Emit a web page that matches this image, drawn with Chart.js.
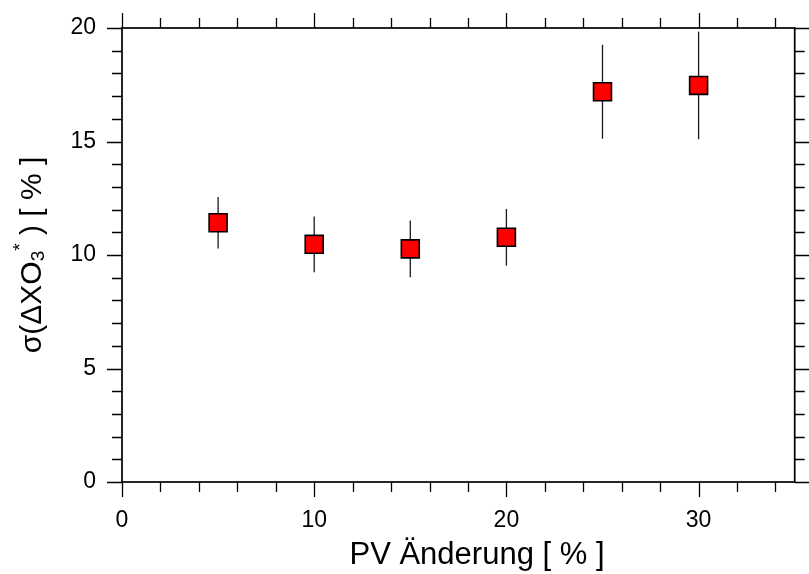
<!DOCTYPE html>
<html>
<head>
<meta charset="utf-8">
<script src="https://cdn.jsdelivr.net/npm/chart.js@4.4.1/dist/chart.umd.min.js"></script>
<style>
    html, body { margin: 0; padding: 0; background: #fff; }
    #wrap { width: 809px; height: 574px; }
</style>
</head>
<body>
<div id="wrap"><canvas id="grafico" width="809" height="574"></canvas></div>
<script>
// PV-Änderung in %, Streuung sigma(dXO3*) in % und Fehlerbalken (+/-)
const pvAenderung = [5, 10, 15, 20, 25, 30]
const sigmaXO3 = [11.42, 10.47, 10.27, 10.78, 17.19, 17.47]
const fehler = [1.13, 1.23, 1.25, 1.25, 2.07, 2.37]

const xAchse = { min: 0, max: 35, schritt: 10, neben: 2 }
const yAchse = { min: 0, max: 20, schritt: 5, neben: 1 }

const titelX = 'PV Änderung [ % ]'

const schrift = "'Liberation Sans', Arial, Helvetica, sans-serif"

// Fehlerbalken unter die Quadrate zeichnen
const fehlerbalken = {
    id: 'fehlerbalken',
    beforeDatasetsDraw(chart) {
        const ctx = chart.ctx
        const x = chart.scales.x
        const y = chart.scales.y
        ctx.save()
        ctx.strokeStyle = '#1a1a1a'
        ctx.lineWidth = 1.3
        for (let i = 0; i < pvAenderung.length; i++) {
            const px = x.getPixelForValue(pvAenderung[i])
            ctx.beginPath()
            ctx.moveTo(px, y.getPixelForValue(sigmaXO3[i] - fehler[i]))
            ctx.lineTo(px, y.getPixelForValue(sigmaXO3[i] + fehler[i]))
            ctx.stroke()
        }
        ctx.restore()
    }
}

// Rahmen mit Haupt- und Nebenstrichen auf allen vier Seiten
const rahmen = {
    id: 'rahmen',
    afterDatasetsDraw(chart) {
        const ctx = chart.ctx
        const a = chart.chartArea
        const x = chart.scales.x
        const y = chart.scales.y
        ctx.save()
        ctx.strokeStyle = '#000'
        ctx.lineWidth = 1.3
        ctx.beginPath()
        for (let v = xAchse.min; v < xAchse.max + 0.001; v += xAchse.neben) {
            const px = Math.round(x.getPixelForValue(v)) + 0.5
            const len = v % xAchse.schritt === 0 ? 15 : 10
            ctx.moveTo(px, a.bottom); ctx.lineTo(px, a.bottom + len)
            ctx.moveTo(px, a.top); ctx.lineTo(px, a.top - len)
        }
        for (let v = yAchse.min; v < yAchse.max + 0.001; v += yAchse.neben) {
            const py = Math.round(y.getPixelForValue(v)) + 0.5
            const len = v % yAchse.schritt === 0 ? 15 : 10
            ctx.moveTo(a.left, py); ctx.lineTo(a.left - len, py)
            ctx.moveTo(a.right, py); ctx.lineTo(a.right + len, py)
        }
        ctx.stroke()
        ctx.lineWidth = 1.7
        ctx.strokeRect(a.left, a.top, a.right - a.left, a.bottom - a.top)
        ctx.restore()
    }
}

// Achsentitel: x unten, y gedreht mit Index 3 und Stern
const achsentitel = {
    id: 'achsentitel',
    afterDraw(chart) {
        const ctx = chart.ctx
        const a = chart.chartArea
        ctx.save()
        ctx.fillStyle = '#000'
        ctx.textBaseline = 'alphabetic'
        ctx.textAlign = 'left'

        ctx.font = `31px ${schrift}`
        const bx = ctx.measureText(titelX).width
        ctx.fillText(titelX, 477 - bx / 2, 564)

        const teile = [
            { t: 'σ(ΔXO', size: 30, dy: 0 },
            { t: '3', size: 19, dy: 3 },
            { t: '*', size: 19, dy: -15 },
            { t: ' ) [ % ]', size: 30, dy: 0 }
        ]
        let gesamt = 0
        for (const s of teile) {
            ctx.font = `${s.size}px ${schrift}`
            s.w = ctx.measureText(s.t).width
            gesamt += s.w
        }
        const mitte = (a.top + a.bottom) / 2
        ctx.translate(41, mitte + gesamt / 2)
        ctx.rotate(-Math.PI / 2)
        let lx = 0
        for (const s of teile) {
            ctx.font = `${s.size}px ${schrift}`
            ctx.fillText(s.t, lx, s.dy)
            lx += s.w
        }
        ctx.restore()
    }
}

const ctx = document.getElementById('grafico').getContext('2d')

const grafico = new Chart(ctx, {
    type: 'scatter',
    data: {
        datasets: [{
            data: pvAenderung.map((v, i) => ({ x: v, y: sigmaXO3[i] })),
            pointStyle: 'rect',
            pointRadius: 12.7,
            backgroundColor: '#ff0000',
            borderColor: '#000',
            borderWidth: 1.6
        }]
    },
    options: {
        responsive: false,
        animation: false,
        devicePixelRatio: 1,
        events: [],
        layout: { padding: { top: 28, right: 5, left: 0, bottom: 0 } },
        plugins: {
            legend: { display: false },
            tooltip: { enabled: false }
        },
        scales: {
            x: {
                type: 'linear',
                position: 'bottom',
                min: xAchse.min,
                max: xAchse.max,
                grid: { display: false, drawTicks: false },
                border: { display: false },
                ticks: {
                    stepSize: xAchse.schritt,
                    includeBounds: false,
                    padding: 25,
                    color: '#000',
                    font: { family: schrift, size: 23 }
                },
                afterFit(scale) {
                    scale.height = 92
                    scale.paddingLeft = 0
                    scale.paddingRight = 0
                }
            },
            y: {
                type: 'linear',
                position: 'left',
                min: yAchse.min,
                max: yAchse.max,
                grid: { display: false, drawTicks: false },
                border: { display: false },
                ticks: {
                    stepSize: yAchse.schritt,
                    padding: 26,
                    color: '#000',
                    font: { family: schrift, size: 23 }
                },
                afterFit(scale) {
                    scale.width = 122
                    scale.paddingTop = 0
                    scale.paddingBottom = 0
                }
            }
        }
    },
    plugins: [fehlerbalken, rahmen, achsentitel]
})
</script>
</body>
</html>
